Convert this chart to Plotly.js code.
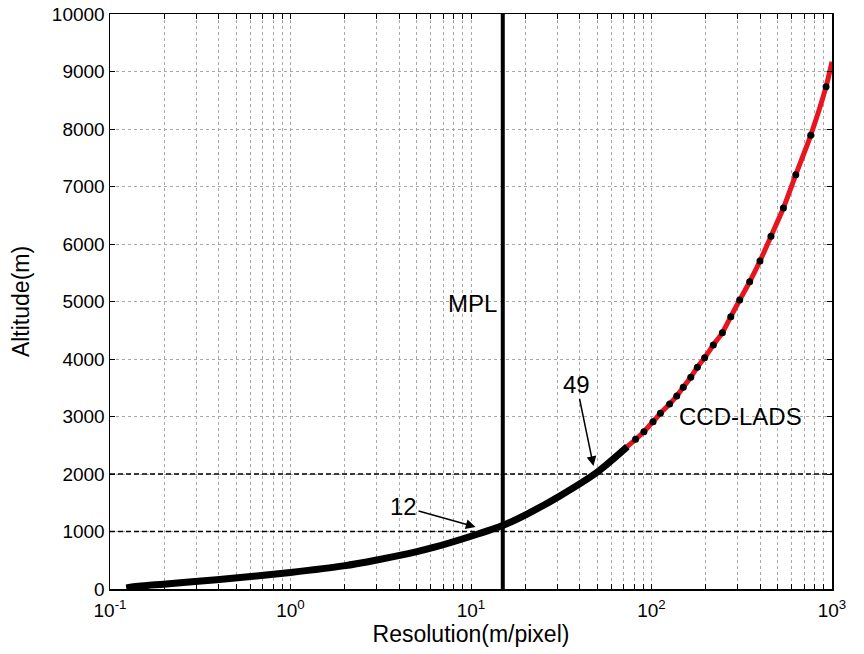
<!DOCTYPE html>
<html>
<head>
<meta charset="utf-8">
<script src="https://cdn.plot.ly/plotly-3.0.1.min.js"></script>
<style>html,body{margin:0;padding:0;background:#fff;}#chart{width:864px;height:654px;}</style>
</head>
<body>
<div id="chart"></div>
<script>
// Dense (black) part of the curve
const blackRes = [0.123, 0.1435, 0.198, 0.296, 0.493, 1.0, 1.97, 3.01, 5.02, 6.2, 10, 15, 20.2, 30.9, 50.4, 73.5];
const blackAlt = [20, 47, 84, 130, 190, 288, 402, 505, 650, 722, 918, 1105, 1295, 1615, 2040, 2475];
// Sparse sample points (black dots) on the red CCD-LADS curve
const dotRes = [81.6, 90.8, 102, 112, 126, 138, 150, 165, 179.5, 197, 220, 247, 275, 308, 350, 399, 459, 538, 630, 762, 927];
const dotAlt = [2603, 2736, 2910, 3056, 3217, 3357, 3508, 3682, 3856, 4023, 4243, 4457, 4736, 5026, 5344, 5704, 6134, 6626, 7205, 7890, 8736];
// Red curve end points
const redStart = [50.4, 2040];
const redEnd = [1000, 9170];
// Reference lines
const mplRes = 15;
const refAltitudes = [1000, 2000];
const xRange = [0.1, 1000];
const yRange = [0, 10000];
// Tick labels
const decades = [0.1, 1, 10, 100, 1000];
const decadeLabels = ['10<sup>-1</sup>', '10<sup>0</sup>', '10<sup>1</sup>', '10<sup>2</sup>', '10<sup>3</sup>'];
const yTicks = [0, 1000, 2000, 3000, 4000, 5000, 6000, 7000, 8000, 9000, 10000];
const yTickText = ['0', '1000', '2000', '3000', '4000', '5000', '6000', '7000', '8000', '9000', '10000'];

const tickVals = [], tickText = [];
for (let d = 0; d < decades.length; d++) {
  for (let m = 1; m <= 9; m++) {
    const v = decades[d] * m;
    if (v > 1000.0001) break;
    tickVals.push(v);
    tickText.push(m === 1 ? decadeLabels[d] : '');
  }
}

const redRes = [redStart[0]].concat(dotRes, [redEnd[0]]);
const redAlt = [redStart[1]].concat(dotAlt, [redEnd[1]]);

const traces = [];
refAltitudes.forEach(a => traces.push({
  x: xRange, y: [a, a], mode: 'lines', hoverinfo: 'skip',
  line: {color: '#000', width: 1.6, dash: '5px,3px'}, showlegend: false
}));
traces.push({x: [mplRes, mplRes], y: yRange, mode: 'lines',
  line: {color: '#000', width: 4}, showlegend: false});
traces.push({x: redRes, y: redAlt, mode: 'lines',
  line: {color: '#e8141e', width: 5, shape: 'spline', smoothing: 0.6}, showlegend: false});
traces.push({x: blackRes, y: blackAlt, mode: 'lines',
  line: {color: '#000', width: 7, shape: 'spline', smoothing: 0.8}, showlegend: false});
traces.push({x: dotRes, y: dotAlt, mode: 'markers',
  marker: {color: '#000', size: 7}, showlegend: false});

const font = {family: '"Liberation Sans", Arial, Helvetica, sans-serif', color: '#000'};

const layout = {
  width: 864, height: 654,
  margin: {l: 110, r: 32, t: 14, b: 65},
  paper_bgcolor: '#fff', plot_bgcolor: '#fff',
  font: font,
  showlegend: false,
  xaxis: {
    type: 'log', range: [Math.log10(xRange[0]), Math.log10(xRange[1])],
    tickmode: 'array', tickvals: tickVals, ticktext: tickText,
    ticks: 'inside', ticklen: 5, tickwidth: 1, tickcolor: '#000',
    ticklabelstandoff: 4,
    showgrid: true, gridcolor: '#a8a8a8', griddash: 'dot', gridwidth: 1,
    showline: true, linecolor: '#000', linewidth: 1.5, mirror: 'ticks',
    zeroline: false,
    tickfont: {size: 19, family: font.family, color: '#000'},
    title: {text: 'Resolution(m/pixel)', font: {size: 23, family: font.family, color: '#000'}, standoff: 4}
  },
  yaxis: {
    range: yRange, tickmode: 'array', tickvals: yTicks, ticktext: yTickText,
    ticks: 'inside', ticklen: 5, tickwidth: 1, tickcolor: '#000',
    showgrid: true, gridcolor: '#a8a8a8', griddash: 'dot', gridwidth: 1,
    showline: true, linecolor: '#000', linewidth: 1.5, mirror: 'ticks',
    zeroline: false,
    tickfont: {size: 19, family: font.family, color: '#000'},
    title: {text: 'Altitude(m)', font: {size: 23, family: font.family, color: '#000'}, standoff: 16}
  },
  annotations: [
    {x: Math.log10(10.2), y: 4974, text: 'MPL', showarrow: false, font: {size: 24, family: font.family, color: '#000'}},
    {x: Math.log10(312), y: 2997, text: 'CCD-LADS', showarrow: false, font: {size: 24, family: font.family, color: '#000'}},
    {x: Math.log10(10.6), y: 1080, text: '12', showarrow: true, ax: -72, ay: -20,
      arrowhead: 2, arrowsize: 1.3, arrowwidth: 1.5, arrowcolor: '#000', font: {size: 24, family: font.family, color: '#000'}},
    {x: Math.log10(47.7), y: 2139, text: '49', showarrow: true, ax: -17, ay: -82,
      arrowhead: 2, arrowsize: 1.3, arrowwidth: 1.5, arrowcolor: '#000', font: {size: 24, family: font.family, color: '#000'}}
  ]
};

Plotly.newPlot('chart', traces, layout, {staticPlot: true, displayModeBar: false});
</script>
</body>
</html>
